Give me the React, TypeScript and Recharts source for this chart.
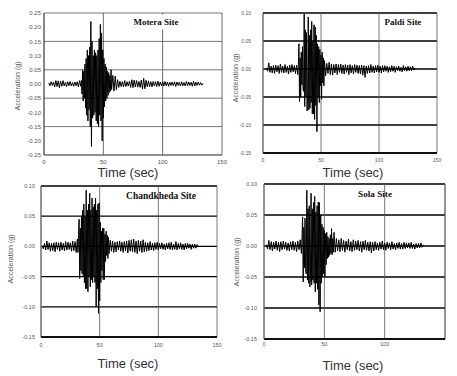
import React from "react";
import { LineChart, Line, XAxis, YAxis, CartesianGrid, ReferenceLine } from "recharts";

// ---------- Data (acceleration in g) ----------
// Each record: segment start time (s), sampling step (s), acceleration values
const moteraPre = [0.004, -0.006, 0.008, -0.005, 0.007, -0.01, 0.012, -0.009, 0.011, -0.013, 0.01, -0.008, 0.012, -0.007, 0.006, -0.009, 0.008, -0.006, 0.009, -0.007, 0.005, -0.008, 0.007, -0.006, 0.008, -0.01, 0.012, -0.008];
const moteraStrong = [0.012, -0.035, 0.05, -0.06, 0.045, -0.05, 0.07, -0.085, 0.09, -0.11, 0.12, -0.13, 0.1, -0.09, 0.13, -0.15, 0.22, -0.22, 0.15, -0.12, 0.1, -0.11, 0.12, -0.1, 0.11, -0.13, 0.1, -0.14, 0.12, -0.15, 0.16, -0.11, 0.21, -0.13, 0.18, -0.2, 0.12, -0.12, 0.09, -0.08, 0.07, -0.06, 0.06, -0.05, 0.045, -0.04, 0.04, -0.03, 0.03, -0.025, 0.05, -0.02];
const moteraPost = [0.03, -0.025, 0.028, -0.02, 0.015, -0.012, 0.01, -0.009, 0.008, -0.01, 0.012, -0.009, 0.008, -0.007, 0.01, -0.012, 0.015, -0.013, 0.014, -0.01, 0.012, -0.011, 0.009, -0.012, 0.014, -0.018, 0.02, -0.017, 0.013, -0.01, 0.011, -0.009, 0.008, -0.01, 0.009, -0.007, 0.008, -0.009, 0.01, -0.008, 0.007, -0.006, 0.008, -0.007, 0.009, -0.006, 0.007, -0.008, 0.006, -0.005, 0.007, -0.006, 0.008, -0.009, 0.007, -0.005, 0.006, -0.007, 0.008, -0.006, 0.005, -0.007, 0.009, -0.006, 0.007, -0.005, 0.006, -0.008, 0.01, -0.007, 0.006, -0.005, 0.007, -0.004, 0.005, -0.004, 0.002];

const paldiPre = [0.002, -0.004, 0.011, -0.006, 0.005, -0.007, 0.006, -0.008, 0.007, -0.005, 0.006, -0.008, 0.009, -0.006, 0.005, -0.007, 0.008, -0.006, 0.005, -0.009, 0.007, -0.006, 0.008, -0.005, 0.006, -0.008, 0.007, -0.01];
const paldiStrong = [0.008, 0.045, -0.058, 0.02, -0.05, 0.03, -0.028, 0.04, -0.035, -0.04, 0.098, -0.067, 0.07, -0.05, 0.065, -0.075, -0.04, 0.093, -0.073, 0.06, -0.07, 0.07, -0.06, 0.085, -0.08, 0.05, -0.08, 0.079, -0.09, 0.075, -0.065, 0.06, -0.112, 0.045, -0.05, 0.04, -0.06, 0.035, -0.03, 0.025, -0.054, 0.03, -0.025, 0.02, -0.03, 0.015];
const paldiPost = [-0.012, 0.01, -0.008, 0.012, -0.01, 0.009, -0.011, 0.008, -0.007, 0.009, -0.01, 0.008, -0.006, 0.009, -0.008, 0.007, -0.009, 0.008, -0.006, 0.007, -0.01, 0.008, -0.007, 0.006, -0.009, 0.008, -0.006, 0.007, -0.008, 0.006, -0.009, 0.007, -0.011, 0.006, -0.015, 0.005, -0.008, 0.006, -0.007, 0.008, -0.006, 0.005, -0.007, 0.006, -0.005, 0.007, -0.006, 0.005, -0.007, 0.006, -0.005, 0.006, -0.004, 0.005, -0.006, 0.004, -0.005, 0.006, -0.004, 0.005, -0.006, 0.004, -0.003, 0.005, -0.004, 0.003, -0.005, 0.006, -0.003, 0.004, -0.004, 0.005, -0.003, 0.004, -0.003, 0.005, -0.002, 0.002];

const chandPre = [0.001, -0.004, 0.005, -0.006, 0.009, -0.005, 0.006, -0.008, 0.005, -0.007, 0.006, -0.009, 0.007, -0.005, 0.006, -0.008, 0.007, -0.006, 0.005, -0.007, 0.008, -0.006, 0.007, -0.005, 0.006, -0.008, 0.009, -0.007, 0.008, -0.01, 0.012];
const chandStrong = [-0.01, 0.02, 0.045, -0.053, 0.03, -0.04, 0.05, -0.045, 0.06, -0.05, 0.07, -0.06, 0.05, -0.07, 0.093, -0.07, 0.06, -0.075, 0.07, -0.05, 0.088, -0.067, 0.06, -0.055, 0.08, -0.06, 0.065, -0.05, 0.07, -0.06, 0.08, -0.1, 0.06, -0.07, 0.07, -0.111, 0.072, -0.09, 0.04, -0.06, 0.025, -0.04, 0.03, -0.055, 0.03, -0.055, 0.02, -0.025, 0.025, -0.015, 0.018, -0.02, 0.015];
const chandPost = [-0.012, 0.01, -0.008, 0.009, -0.01, 0.007, -0.009, 0.008, -0.006, 0.009, -0.008, 0.007, -0.01, 0.008, -0.007, 0.009, -0.011, 0.01, -0.008, 0.011, -0.009, 0.012, -0.01, 0.009, -0.012, 0.01, -0.008, 0.009, -0.01, 0.011, -0.009, 0.007, -0.008, 0.006, -0.007, 0.008, -0.006, 0.005, -0.007, 0.006, -0.005, 0.007, -0.006, 0.005, -0.004, 0.006, -0.005, 0.004, -0.006, 0.005, -0.004, 0.006, -0.005, 0.007, -0.006, 0.004, -0.005, 0.008, -0.006, 0.005, -0.004, 0.006, -0.005, 0.004, -0.006, 0.005, -0.004, 0.005, -0.003, 0.004, -0.005, 0.004, -0.003, 0.004, -0.003, 0.003, 0.0];

const solaPre = [0.002, -0.005, 0.009, -0.006, 0.007, -0.008, 0.006, -0.005, 0.008, -0.007, 0.006, -0.009, 0.007, -0.006, 0.008, -0.005, 0.006, -0.007, 0.005, -0.008, 0.007, -0.006, 0.008, -0.007, 0.006, -0.009, 0.008, -0.006, 0.01, -0.012];
const solaStrong = [0.015, 0.047, -0.058, 0.03, -0.035, 0.045, -0.04, -0.045, 0.09, -0.055, 0.06, -0.06, 0.065, -0.066, -0.05, 0.085, -0.063, 0.06, -0.055, 0.07, -0.06, 0.08, -0.074, 0.055, -0.06, 0.065, -0.07, 0.071, -0.095, 0.07, -0.106, 0.05, -0.06, 0.035, -0.05, 0.03, -0.045, 0.025, -0.05, 0.02, -0.03, 0.022, -0.02, 0.015, -0.018, 0.012, -0.015, 0.018, -0.012, 0.028, -0.014, 0.012, -0.01, 0.022];
const solaPost = [-0.01, 0.012, -0.008, 0.01, -0.009, 0.012, -0.007, 0.009, -0.01, 0.008, -0.006, 0.011, -0.008, 0.007, -0.009, 0.01, -0.007, 0.008, -0.006, 0.009, -0.008, 0.007, -0.01, 0.008, -0.006, 0.009, -0.007, 0.006, -0.008, 0.007, -0.011, 0.006, -0.008, 0.007, -0.006, 0.005, -0.007, 0.006, -0.005, 0.008, -0.006, 0.005, -0.007, 0.006, -0.004, 0.005, -0.006, 0.007, -0.005, 0.004, -0.006, 0.005, -0.004, 0.006, -0.005, 0.004, -0.005, 0.006, -0.004, 0.005, -0.003, 0.005, -0.004, 0.006, -0.004, 0.003, -0.005, 0.004, -0.003, 0.004, -0.003, 0.005, -0.002, 0.002];

const siteNames = ["Motera Site", "Paldi Site", "Chandkheda Site", "Sola Site"];
const xTicks = [0, 50, 100, 150];
const yTicksMotera = [0.25, 0.2, 0.15, 0.1, 0.05, 0, -0.05, -0.1, -0.15, -0.2, -0.25];
const yTicksSmall = [0.1, 0.05, 0, -0.05, -0.1, -0.15];

type Seg = { start: number; step: number; values: number[] };
function build(segs: Seg[]) {
  const out: { t: number; a: number }[] = [];
  segs.forEach((s) =>
    s.values.forEach((v, i) => out.push({ t: +(s.start + i * s.step).toFixed(2), a: v }))
  );
  return out;
}

const moteraData = build([
  { start: 4, step: 1, values: moteraPre },
  { start: 31.5, step: 0.5, values: moteraStrong },
  { start: 58, step: 1, values: moteraPost },
]);
const paldiData = build([
  { start: 3, step: 1, values: paldiPre },
  { start: 30.5, step: 0.5, values: paldiStrong },
  { start: 54, step: 1, values: paldiPost },
]);
const chandData = build([
  { start: 1, step: 1, values: chandPre },
  { start: 31.5, step: 0.5, values: chandStrong },
  { start: 58, step: 1, values: chandPost },
]);
const solaData = build([
  { start: 2, step: 1, values: solaPre },
  { start: 31.5, step: 0.5, values: solaStrong },
  { start: 59, step: 1, values: solaPost },
]);

const fmt = (v: number) => v.toFixed(2);

type PanelProps = {
  data: { t: number; a: number }[];
  left: number;
  top: number;
  width: number;
  height: number;
  margin: { top: number; right: number; left: number; bottom: number };
  yWidth: number;
  xHeight: number;
  yDomain: [number, number];
  yTicks: number[];
  xTickList: number[];
  yTickMargin: number;
  xTickMargin: number;
  tickFont: number;
  hStroke: string;
  hWidth: number;
  vStroke: string;
  vWidth: number;
  extraV?: number;
};

function Panel(p: PanelProps) {
  return (
    <div style={{ position: "absolute", left: p.left, top: p.top }}>
      <LineChart width={p.width} height={p.height} data={p.data} margin={p.margin}>
        <CartesianGrid horizontal={true} vertical={false} stroke={p.hStroke} strokeWidth={p.hWidth} />
        <CartesianGrid horizontal={false} vertical={true} stroke={p.vStroke} strokeWidth={p.vWidth} />
        <XAxis
          dataKey="t"
          type="number"
          domain={[0, 150]}
          ticks={p.xTickList}
          tickLine={false}
          tickSize={0}
          tickMargin={p.xTickMargin}
          height={p.xHeight}
          axisLine={{ stroke: p.hStroke, strokeWidth: p.hWidth }}
          tick={{ fontSize: p.tickFont, fill: "#555", fontFamily: "Liberation Sans, Arial, sans-serif" }}
          allowDataOverflow
        />
        <YAxis
          type="number"
          domain={p.yDomain}
          ticks={p.yTicks}
          tickFormatter={fmt}
          tickLine={false}
          tickSize={0}
          tickMargin={p.yTickMargin}
          width={p.yWidth}
          axisLine={{ stroke: p.vStroke, strokeWidth: p.vWidth }}
          tick={{ fontSize: p.tickFont, fill: "#555", fontFamily: "Liberation Sans, Arial, sans-serif" }}
          allowDataOverflow
        />
        {p.extraV !== undefined && (
          <ReferenceLine x={p.extraV} stroke={p.vStroke} strokeWidth={p.vWidth} />
        )}
        <Line
          type="linear"
          dataKey="a"
          stroke="#000"
          strokeWidth={1}
          dot={false}
          isAnimationActive={false}
        />
      </LineChart>
    </div>
  );
}

const timeStyle = (cx: number, cy: number): React.CSSProperties => ({
  position: "absolute",
  left: cx,
  top: cy,
  transform: "translate(-50%, -50%)",
  fontFamily: "Liberation Sans, Arial, sans-serif",
  fontSize: 13,
  color: "#333",
  whiteSpace: "nowrap",
  lineHeight: 1,
});

const accStyle = (cx: number, cy: number): React.CSSProperties => ({
  position: "absolute",
  left: cx,
  top: cy,
  transform: "translate(-50%, -50%) rotate(-90deg)",
  fontFamily: "Liberation Sans, Arial, sans-serif",
  fontSize: 7,
  color: "#555",
  whiteSpace: "nowrap",
  lineHeight: 1,
});

const siteStyle = (cx: number, cy: number, size: number, bg: boolean): React.CSSProperties => ({
  position: "absolute",
  left: cx,
  top: cy,
  transform: "translate(-50%, -50%)",
  fontFamily: "Liberation Serif, 'Times New Roman', serif",
  fontWeight: "bold",
  fontSize: size,
  color: "#111",
  whiteSpace: "nowrap",
  lineHeight: 1,
  background: bg ? "#fff" : "transparent",
  padding: bg ? "3px 22px" : 0,
});

export default function App() {
  return (
    <div
      style={{
        position: "absolute",
        left: 0,
        top: 0,
        width: 457,
        height: 376,
        background: "#fff",
        overflow: "hidden",
      }}
    >
      <Panel
        data={moteraData}
        left={0}
        top={0}
        width={230}
        height={185}
        margin={{ top: 13, right: 8, left: 0, bottom: 0 }}
        yWidth={44}
        xHeight={30}
        yDomain={[-0.25, 0.25]}
        yTicks={yTicksMotera}
        xTickList={xTicks}
        yTickMargin={3}
        xTickMargin={5}
        tickFont={6}
        hStroke="#555"
        hWidth={0.8}
        vStroke="#444"
        vWidth={0.8}
      />
      <Panel
        data={paldiData}
        left={228}
        top={0}
        width={229}
        height={185}
        margin={{ top: 13, right: 20, left: 0, bottom: 0 }}
        yWidth={35}
        xHeight={32}
        yDomain={[-0.15, 0.1]}
        yTicks={yTicksSmall}
        xTickList={xTicks}
        yTickMargin={12}
        xTickMargin={5}
        tickFont={5}
        hStroke="#000"
        hWidth={1.3}
        vStroke="#555"
        vWidth={0.8}
      />
      <Panel
        data={chandData}
        left={0}
        top={180}
        width={230}
        height={196}
        margin={{ top: 6, right: 13, left: 0, bottom: 0 }}
        yWidth={41}
        xHeight={39}
        yDomain={[-0.15, 0.1]}
        yTicks={yTicksSmall}
        xTickList={xTicks}
        yTickMargin={6}
        xTickMargin={6}
        tickFont={5.5}
        hStroke="#000"
        hWidth={1.3}
        vStroke="#555"
        vWidth={0.8}
      />
      <Panel
        data={solaData}
        left={228}
        top={180}
        width={229}
        height={196}
        margin={{ top: 4, right: 12, left: 0, bottom: 0 }}
        yWidth={36}
        xHeight={37}
        yDomain={[-0.15, 0.1]}
        yTicks={yTicksSmall}
        xTickList={[0, 50, 100]}
        yTickMargin={7}
        xTickMargin={3}
        tickFont={5.5}
        hStroke="#000"
        hWidth={1.3}
        vStroke="#555"
        vWidth={0.8}
        extraV={150}
      />

      <div style={siteStyle(156, 22, 9, true)}>{siteNames[0]}</div>
      <div style={siteStyle(403, 22, 9, false)}>{siteNames[1]}</div>
      <div style={siteStyle(161, 197, 9.5, false)}>{siteNames[2]}</div>
      <div style={siteStyle(375, 195, 9.2, false)}>{siteNames[3]}</div>

      <div style={timeStyle(128, 172)}>Time (sec)</div>
      <div style={timeStyle(353, 172)}>Time (sec)</div>
      <div style={timeStyle(128, 363)}>Time (sec)</div>
      <div style={timeStyle(353, 365)}>Time (sec)</div>

      <div style={accStyle(17, 86)}>Acceleration (g)</div>
      <div style={accStyle(235, 78)}>Acceleration (g)</div>
      <div style={accStyle(10, 259)}>Acceleration (g)</div>
      <div style={accStyle(236, 262)}>Acceleration (g)</div>
    </div>
  );
}
